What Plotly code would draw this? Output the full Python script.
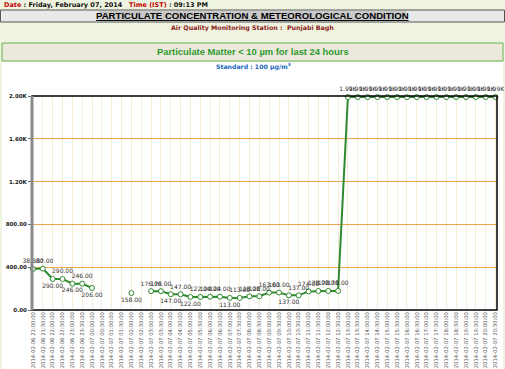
import plotly.graph_objects as go

# ---------------- data ----------------
categories = [
    "2014-02-06 21:00:00", "2014-02-06 21:30:00", "2014-02-06 22:00:00", "2014-02-06 22:30:00",
    "2014-02-06 23:00:00", "2014-02-06 23:30:00", "2014-02-07 00:00:00", "2014-02-07 00:30:00",
    "2014-02-07 01:00:00", "2014-02-07 01:30:00", "2014-02-07 02:00:00", "2014-02-07 02:30:00",
    "2014-02-07 03:00:00", "2014-02-07 03:30:00", "2014-02-07 04:00:00", "2014-02-07 04:30:00",
    "2014-02-07 05:00:00", "2014-02-07 05:30:00", "2014-02-07 06:00:00", "2014-02-07 06:30:00",
    "2014-02-07 07:00:00", "2014-02-07 07:30:00", "2014-02-07 08:00:00", "2014-02-07 08:30:00",
    "2014-02-07 09:00:00", "2014-02-07 09:30:00", "2014-02-07 10:00:00", "2014-02-07 10:30:00",
    "2014-02-07 11:00:00", "2014-02-07 11:30:00", "2014-02-07 12:00:00", "2014-02-07 12:30:00",
    "2014-02-07 13:00:00", "2014-02-07 13:30:00", "2014-02-07 14:00:00", "2014-02-07 14:30:00",
    "2014-02-07 15:00:00", "2014-02-07 15:30:00", "2014-02-07 16:00:00", "2014-02-07 16:30:00",
    "2014-02-07 17:00:00", "2014-02-07 17:30:00", "2014-02-07 18:00:00", "2014-02-07 18:30:00",
    "2014-02-07 19:00:00", "2014-02-07 19:30:00", "2014-02-07 20:00:00", "2014-02-07 20:30:00",
]
pm10_values = [
    383, 387, 290, 290, 246, 246, 206, None,
    None, None, 158, None, 176, 176, 147, 147,
    122, 122, 124, 124, 113, 113, 128, 128,
    163, 163, 137, 137, 174, 178, 178, 178,
    1990, 1990, 1990, 1990, 1990, 1990, 1990, 1990,
    1990, 1990, 1990, 1990, 1990, 1990, 1990, 1990,
]
y_tick_values = [0, 400, 800, 1200, 1600, 2000]
y_tick_labels = ["0.00", "400.00", "800.00", "1.20K", "1.60K", "2.00K"]

header_date = "Date"
header_date_value = "Friday, February 07, 2014"
header_time = "Time (IST)"
header_time_value = "09:13 PM"
title_text = "PARTICULATE CONCENTRATION &amp; METEOROLOGICAL CONDITION"
station_text = "Air Quality Monitoring Station :  Punjabi Bagh"
chart_title = "Particulate Matter &lt; 10 µm for last 24 hours"
standard_text = "Standard : 100 µg/m<sup>3</sup>"


def fmt(v):
    if v is None:
        return ""
    if v >= 1000:
        return f"{v/1000:.2f}K"
    return f"{v:.2f}"


labels = [fmt(v) for v in pm10_values]
positions = []
prev = None
for v in pm10_values:
    if v is not None and prev is not None and v < prev:
        positions.append("bottom center")
    else:
        positions.append("top center")
    if v is not None:
        prev = v

W, H = 505, 369
L, R, T, B = 32, 8, 96, 59

fig = go.Figure()
fig.add_trace(go.Scatter(
    x=categories, y=pm10_values, mode="lines+markers+text",
    line=dict(color="#2f8a2f", width=2),
    marker=dict(symbol="circle", size=5, color="white",
                line=dict(color="#2f8a2f", width=1)),
    text=labels, textposition=positions,
    textfont=dict(family="DejaVu Sans", size=6, color="#333333"),
    cliponaxis=False, connectgaps=False, showlegend=False,
    hoverinfo="x+y",
))

page_bg = "#eff4e0"


def px_x(x):
    return (x - L) / (W - L - R)


def px_y(y):
    return (H - B - y) / (H - T - B)


shapes = [
    dict(type="rect", xref="paper", yref="paper", x0=px_x(0), x1=px_x(W),
         y0=px_y(62), y1=px_y(0), fillcolor=page_bg, line_width=0, layer="below"),
    dict(type="rect", xref="paper", yref="paper", x0=px_x(0), x1=px_x(2),
         y0=px_y(H), y1=px_y(0), fillcolor=page_bg, line_width=0, layer="below"),
    dict(type="rect", xref="paper", yref="paper", x0=px_x(503), x1=px_x(W),
         y0=px_y(H), y1=px_y(0), fillcolor=page_bg, line_width=0, layer="below"),
    # title band
    dict(type="rect", xref="paper", yref="paper", x0=px_x(0.5), x1=px_x(504.5),
         y0=px_y(22), y1=px_y(10), fillcolor="#e9e9e9",
         line=dict(color="#555555", width=1), layer="below"),
    dict(type="rect", xref="paper", yref="paper", x0=px_x(99), x1=px_x(406),
         y0=px_y(21), y1=px_y(11), fillcolor="#c9c9c9", line_width=0, layer="below"),
    # chart title box
    dict(type="rect", xref="paper", yref="paper", x0=px_x(2), x1=px_x(503),
         y0=px_y(61), y1=px_y(43), fillcolor="#ece9dc",
         line=dict(color="#66b050", width=1), layer="below"),
    # plot border
    dict(type="rect", xref="paper", yref="paper", x0=0, x1=1, y0=0, y1=1,
         line=dict(color="#000000", width=1.5), layer="above"),
    dict(type="line", xref="paper", yref="paper", x0=0, x1=0, y0=0, y1=1,
         line=dict(color="#8a8a8a", width=3), layer="above"),
]

annotations = [
    dict(xref="paper", yref="paper", x=px_x(2), y=px_y(5), xanchor="left", yanchor="middle",
         showarrow=False, align="left",
         text=(f"<span style='color:#c00000'>{header_date}</span> : {header_date_value}"
               f"&nbsp;&nbsp; <span style='color:#c00000'>{header_time}</span> : {header_time_value}"),
         font=dict(family="DejaVu Sans", size=6.5, color="#111111", weight="bold")),
    dict(xref="paper", yref="paper", x=px_x(252.5), y=px_y(16), xanchor="center", yanchor="middle",
         showarrow=False, text=f"<u>{title_text}</u>",
         font=dict(family="Liberation Sans", size=9.6, color="#000000", weight="bold")),
    dict(xref="paper", yref="paper", x=px_x(252.5), y=px_y(28), xanchor="center", yanchor="middle",
         showarrow=False, text=station_text,
         font=dict(family="DejaVu Sans", size=6.3, color="#8b1a1a", weight="bold")),
    dict(xref="paper", yref="paper", x=px_x(252.5), y=px_y(52), xanchor="center", yanchor="middle",
         showarrow=False, text=chart_title,
         font=dict(family="Liberation Sans", size=9.4, color="#2e9a2e", weight="bold")),
    dict(xref="paper", yref="paper", x=px_x(253), y=px_y(66), xanchor="center", yanchor="middle",
         showarrow=False, text=standard_text,
         font=dict(family="DejaVu Sans", size=6.2, color="#2266bb", weight="bold")),
]

fig.update_layout(
    width=W, height=H,
    margin=dict(l=L, r=R, t=T, b=B, pad=0, autoexpand=False),
    paper_bgcolor="white", plot_bgcolor="white",
    shapes=shapes, annotations=annotations,
    xaxis=dict(type="category", range=[-0.1, 47.15], tickmode="linear", dtick=1,
               tickangle=-90, automargin=False,
               tickfont=dict(family="DejaVu Sans", size=5.3, color="#555555"),
               showgrid=True, gridcolor="#f7ecd9", gridwidth=1,
               showline=False, ticks="", zeroline=False, fixedrange=True),
    yaxis=dict(range=[0, 2000], tickmode="array", tickvals=y_tick_values, ticktext=y_tick_labels,
               automargin=False,
               tickfont=dict(family="DejaVu Sans", size=5.5, color="#222222", weight="bold"),
               showgrid=True, gridcolor="#eaa64e", gridwidth=1,
               ticks="outside", ticklen=3, tickcolor="#666666",
               showline=False, zeroline=False, fixedrange=True),
)

fig.write_html(
    "out.html",
    config={"displayModeBar": False},
    post_script="document.body.style.margin='0';document.body.style.padding='0';"
                "document.body.style.overflow='hidden';",
)
